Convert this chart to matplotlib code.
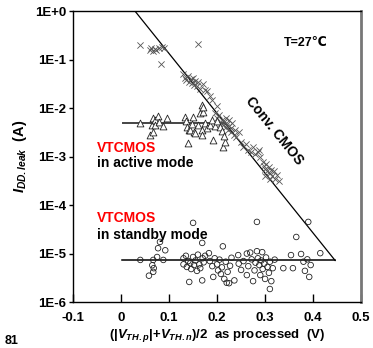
import numpy as np
import matplotlib
matplotlib.use("Agg")
import matplotlib.pyplot as plt
from matplotlib.ticker import FixedLocator, FixedFormatter

plt.rcParams['font.family'] = ['Liberation Sans', 'DejaVu Sans']
plt.rcParams['font.weight'] = 'bold'
plt.rcParams['mathtext.fontset'] = 'custom'
plt.rcParams['mathtext.rm'] = 'Liberation Sans:bold'
plt.rcParams['mathtext.it'] = 'Liberation Sans:bold:italic'
plt.rcParams['mathtext.bf'] = 'Liberation Sans:bold'

# conventional CMOS (crosses)
conv_x = [0.04, 0.06, 0.063, 0.066, 0.07, 0.072, 0.078, 0.083, 0.085, 0.09, 0.16,
          0.13, 0.133, 0.136, 0.14, 0.142, 0.145, 0.148, 0.15, 0.152, 0.155, 0.158,
          0.16, 0.165, 0.17, 0.175, 0.18, 0.19, 0.185, 0.2,
          0.195, 0.2, 0.205, 0.208, 0.21, 0.212, 0.215, 0.218, 0.22, 0.222, 0.225,
          0.228, 0.23, 0.232, 0.235, 0.238, 0.24, 0.218, 0.225, 0.245,
          0.25, 0.255, 0.26, 0.265, 0.27, 0.275, 0.28, 0.285, 0.29, 0.288,
          0.295, 0.298, 0.3, 0.302, 0.305, 0.308, 0.31, 0.312, 0.315, 0.318,
          0.32, 0.325, 0.31, 0.33, 0.3]
conv_y = [0.2, 0.16, 0.17, 0.15, 0.165, 0.16, 0.17, 0.08, 0.18, 0.175, 0.21,
          0.050, 0.042, 0.038, 0.045, 0.035, 0.040, 0.033, 0.042, 0.030, 0.036, 0.028,
          0.034, 0.025, 0.032, 0.024, 0.023, 0.0145, 0.018, 0.011,
          7.9e-3, 6.3e-3, 7.1e-3, 5.0e-3, 5.6e-3, 4.5e-3, 5.2e-3, 4.0e-3, 4.8e-3, 3.5e-3, 4.2e-3,
          3.2e-3, 3.8e-3, 5.0e-3, 2.8e-3, 3.5e-3, 2.5e-3, 6.3e-3, 5.6e-3, 3.2e-3,
          2.0e-3, 1.6e-3, 1.8e-3, 1.4e-3, 1.26e-3, 1.6e-3, 1.12e-3, 1.26e-3, 1.0e-3, 1.4e-3,
          7.9e-4, 6.3e-4, 5.6e-4, 7.1e-4, 5.0e-4, 6.0e-4, 4.5e-4, 5.2e-4, 4.0e-4, 5.0e-4,
          3.5e-4, 4.2e-4, 3.5e-4, 3.2e-4, 4.0e-4]

# VTCMOS active mode (triangles)
act_x = [0.04, 0.06, 0.064, 0.067, 0.067, 0.07, 0.071, 0.077, 0.08, 0.088, 0.095,
         0.133, 0.135, 0.137, 0.14, 0.142, 0.144, 0.148, 0.15, 0.152, 0.154, 0.16,
         0.165, 0.168, 0.169, 0.169, 0.17, 0.171, 0.175, 0.18, 0.185, 0.19, 0.192,
         0.195, 0.2, 0.206, 0.21, 0.212, 0.217, 0.215]
act_y = [5.0e-3, 2.75e-3, 4.4e-3, 6.3e-3, 3.2e-3, 5.6e-3, 4.5e-3, 6.9e-3, 5.2e-3, 4.3e-3, 6.3e-3,
         6.5e-3, 5.5e-3, 4.1e-3, 1.9e-3, 3.6e-3, 3.5e-3, 4.8e-3, 6.5e-3, 3.2e-3, 3.0e-3, 4.4e-3,
         7.9e-3, 3.5e-3, 1.15e-2, 2.75e-3, 8.3e-3, 1.05e-2, 5.0e-3, 3.8e-3, 4.5e-3, 5.6e-3, 2.2e-3,
         4.2e-3, 5.5e-3, 4.1e-3, 3.3e-3, 1.6e-3, 2.0e-3, 2.6e-3]

# VTCMOS standby mode (circles)
stb_x = [0.04, 0.058, 0.065, 0.067, 0.067, 0.068, 0.075, 0.077, 0.081, 0.088, 0.092,
         0.13, 0.13, 0.135, 0.137, 0.14, 0.142, 0.144, 0.146, 0.15, 0.15, 0.152, 0.155,
         0.158, 0.16, 0.163, 0.165, 0.169, 0.169, 0.17, 0.172, 0.175, 0.183, 0.185,
         0.19, 0.192, 0.195, 0.2, 0.202, 0.205, 0.208, 0.21, 0.212, 0.215, 0.218,
         0.22, 0.222, 0.225, 0.227, 0.23, 0.236, 0.244, 0.245, 0.25, 0.255, 0.262,
         0.262, 0.265, 0.269, 0.272, 0.275, 0.278, 0.28, 0.283, 0.283, 0.285, 0.288,
         0.29, 0.292, 0.294, 0.295, 0.298, 0.3, 0.302, 0.305, 0.308, 0.31, 0.31,
         0.313, 0.316, 0.32, 0.338, 0.354, 0.358, 0.365, 0.375, 0.38, 0.383, 0.388,
         0.39, 0.392, 0.395, 0.415]
stb_y = [7.4e-6, 3.5e-6, 5.75e-6, 7.4e-6, 4.2e-6, 5.0e-6, 8.5e-6, 1.29e-5, 1.74e-5, 7.4e-6, 1.17e-5,
         8.0e-6, 6.0e-6, 9.0e-6, 5.3e-6, 7.0e-6, 2.6e-6, 6.3e-6, 4.8e-6, 4.3e-5, 8.5e-6, 5.8e-6, 7.2e-6,
         4.4e-6, 9.5e-6, 6.0e-6, 5.0e-6, 1.66e-5, 2.8e-6, 8.0e-6, 6.6e-6, 9.0e-6, 1.02e-5, 7.0e-6,
         5.5e-6, 3.3e-6, 8.0e-6, 6.0e-6, 4.5e-6, 7.5e-6, 3.8e-6, 5.2e-6, 1.41e-5, 3.0e-6, 6.8e-6,
         2.5e-6, 4.2e-6, 2.45e-6, 5.6e-6, 8.2e-6, 2.8e-6, 9.3e-6, 6.2e-6, 4.6e-6, 7.0e-6, 1.0e-5,
         3.6e-6, 5.5e-6, 1.05e-5, 7.6e-6, 2.7e-6, 4.5e-6, 6.5e-6, 4.5e-5, 1.12e-5, 8.0e-6, 5.8e-6,
         3.6e-6, 7.2e-6, 1.07e-5, 4.8e-6, 6.2e-6, 3.0e-6, 8.3e-6, 5.3e-6, 4.0e-6, 1.86e-6, 6.8e-6,
         2.7e-6, 5.0e-6, 7.5e-6, 5.0e-6, 9.3e-6, 5.0e-6, 2.2e-5, 9.8e-6, 6.8e-6, 4.4e-6, 7.6e-6,
         4.5e-5, 3.3e-6, 5.8e-6, 1.02e-5]

# fitted guide lines
conv_line_x = [0.029, 0.446]
conv_line_y = [1.0, 7.2e-6]
act_line_x = [0.003, 0.216]
act_line_y = [5e-3, 5e-3]
stb_line_x = [0.002, 0.446]
stb_line_y = [7.2e-6, 7.2e-6]

xticks = [-0.1, 0, 0.1, 0.2, 0.3, 0.4, 0.5]
xticklabels = ['-0.1', '0', '0.1', '0.2', '0.3', '0.4', '0.5']
yticks = [1e-6, 1e-5, 1e-4, 1e-3, 1e-2, 1e-1, 1e0]
yticklabels = ['1E-6', '1E-5', '1E-4', '1E-3', '1E-2', '1E-1', '1E+0']

fig = plt.figure(figsize=(3.73, 3.48), dpi=100)
ax = fig.add_axes([0.196, 0.132, 0.772, 0.836])

ax.plot(conv_line_x, conv_line_y, color='black', lw=0.9, zorder=3)
ax.plot(act_line_x, act_line_y, color='#444444', lw=1.4, zorder=3)
ax.plot(stb_line_x, stb_line_y, color='black', lw=1.1, zorder=3)

ax.scatter(conv_x, conv_y, marker='x', s=20, color='#555555', linewidths=0.6, zorder=4)
ax.scatter(act_x, act_y, marker='^', s=24, facecolors='white', edgecolors='#222222',
           linewidths=0.6, zorder=4)
ax.scatter(stb_x, stb_y, marker='o', s=16, facecolors='none', edgecolors='#222222',
           linewidths=0.6, zorder=4)

ax.set_yscale('log')
ax.set_xlim(-0.1, 0.5)
ax.set_ylim(1e-6, 1)
ax.xaxis.set_major_locator(FixedLocator(xticks))
ax.xaxis.set_major_formatter(FixedFormatter(xticklabels))
ax.yaxis.set_major_locator(FixedLocator(yticks))
ax.yaxis.set_major_formatter(FixedFormatter(yticklabels))
ax.yaxis.set_minor_locator(FixedLocator([]))
ax.tick_params(axis='x', direction='in', length=6, width=1, pad=7, labelsize=9.5)
ax.tick_params(axis='y', direction='out', length=3, width=1, pad=2, labelsize=9.5)
for lab in ax.get_xticklabels() + ax.get_yticklabels():
    lab.set_fontweight('bold')

ax.spines['right'].set_color('#777777')
ax.spines['right'].set_linewidth(2)
for s in ['left', 'bottom', 'top']:
    ax.spines[s].set_linewidth(1)

ax.set_xlabel(r'(|$V_{TH .p}$|+$V_{TH.n}$)/2  as processed  (V)', fontsize=9.5,
              fontweight='bold', labelpad=2)
ax.set_ylabel(r'$I_{DD.leak}$  (A)', fontsize=10.5, fontweight='bold', labelpad=4)

ax.text(0.34, 0.22, 'T=27℃', fontsize=9, fontweight='bold', va='center', ha='left')
ax.text(0.319, 3.4e-3, 'Conv. CMOS', fontsize=10, fontweight='bold', rotation=-51,
        ha='center', va='center', rotation_mode='anchor')
ax.text(-0.05, 1.5e-3, 'VTCMOS', color='#ff0000', fontsize=10, fontweight='bold', va='center')
ax.text(-0.05, 7.4e-4, 'in active mode', fontsize=10, fontweight='bold', va='center')
ax.text(-0.05, 5.4e-5, 'VTCMOS', color='#ff0000', fontsize=10, fontweight='bold', va='center')
ax.text(-0.05, 2.4e-5, 'in standby mode', fontsize=10, fontweight='bold', va='center')

fig.text(0.012, 0.003, '81', fontsize=9, fontweight='bold', va='bottom')

fig.savefig('out.png', dpi=100)
